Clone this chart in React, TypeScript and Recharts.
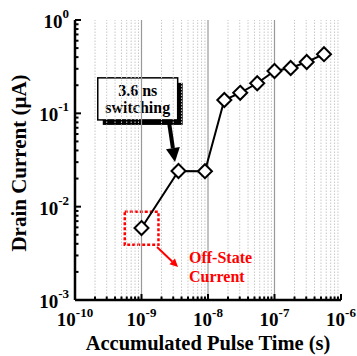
import React from 'react';
import { LineChart, Line, XAxis, YAxis, ReferenceLine, ReferenceArea, ReferenceDot } from 'recharts';

const pulseTime = [1e-9, 3.6e-9, 9.0e-9, 1.76e-8, 3.05e-8, 5.5e-8, 1.0e-7, 1.75e-7, 3.05e-7, 5.55e-7];
const drainCurrent = [0.0059, 0.0241, 0.024, 0.139, 0.166, 0.21, 0.284, 0.306, 0.355, 0.43];

const xMajor = [1e-10, 1e-9, 1e-8, 1e-7, 1e-6];
const yMajor = [1e-3, 1e-2, 1e-1, 1];
const mantissas = [2, 3, 4, 5, 6, 7, 8, 9];

const xMinor = xMajor.slice(0, -1).flatMap((d) => mantissas.map((m) => m * d));
const yMinor = yMajor.slice(0, -1).flatMap((d) => mantissas.map((m) => m * d));
const xTicks = [...xMajor, ...xMinor].sort((a, b) => a - b);
const yTicks = [...yMajor, ...yMinor].sort((a, b) => a - b);

const data = pulseTime.map((x, i) => ({ x, y: drainCurrent[i] }));

const FONT = '"Liberation Serif", "Times New Roman", serif';

const isMajor = (v: number) => Math.abs(Math.log10(v) - Math.round(Math.log10(v))) < 1e-6;
const expOf = (v: number) => String(Math.round(Math.log10(v)));

const BottomTick = (props: any) => {
  const { x, y, payload } = props;
  const v = payload.value;
  const major = isMajor(v);
  return (
    <g>
      <line x1={x} y1={y} x2={x} y2={y - (major ? 6 : 3.5)} stroke="#000" strokeWidth={2} />
      {major && (
        <text x={x} y={y + 26} textAnchor="middle" fontFamily={FONT} fontWeight="bold" fontSize={19} fill="#000">
          <tspan>10</tspan>
          <tspan dy={-9} fontSize={13}>{expOf(v)}</tspan>
        </text>
      )}
    </g>
  );
};

const TopTick = (props: any) => {
  const { x, y, payload } = props;
  const major = isMajor(payload.value);
  return <line x1={x} y1={y} x2={x} y2={y + (major ? 6 : 3.5)} stroke="#000" strokeWidth={2} />;
};

const LeftTick = (props: any) => {
  const { x, y, payload } = props;
  const v = payload.value;
  const major = isMajor(v);
  return (
    <g>
      <line x1={x} y1={y} x2={x + (major ? 6 : 3.5)} y2={y} stroke="#000" strokeWidth={2} />
      {major && (
        <text x={x - 6} y={y + 8} textAnchor="end" fontFamily={FONT} fontWeight="bold" fontSize={19} fill="#000">
          <tspan>10</tspan>
          <tspan dy={-10} fontSize={13}>{expOf(v)}</tspan>
        </text>
      )}
    </g>
  );
};

const RightTick = (props: any) => {
  const { x, y, payload } = props;
  const major = isMajor(payload.value);
  return <line x1={x} y1={y} x2={x - (major ? 6 : 3.5)} y2={y} stroke="#000" strokeWidth={2} />;
};

const Diamond = (props: any) => {
  const { cx, cy, index } = props;
  if (cx == null || cy == null) return null;
  const r = 7;
  return (
    <polygon
      key={`d-${index}`}
      points={`${cx},${cy - r} ${cx + r},${cy} ${cx},${cy + r} ${cx - r},${cy}`}
      fill="#fff"
      stroke="#000"
      strokeWidth={2}
    />
  );
};

const makeArrow = (color: string, shaft: number, headLen: number, headHalf: number) => (p: any) => {
  const { x1, y1, x2, y2 } = p;
  const dx = x2 - x1;
  const dy = y2 - y1;
  const len = Math.sqrt(dx * dx + dy * dy) || 1;
  const ux = dx / len;
  const uy = dy / len;
  const bx = x2 - ux * headLen;
  const by = y2 - uy * headLen;
  const nx = -uy;
  const ny = ux;
  return (
    <g>
      <line x1={x1} y1={y1} x2={bx} y2={by} stroke={color} strokeWidth={shaft} />
      <polygon
        points={`${x2},${y2} ${bx + nx * headHalf},${by + ny * headHalf} ${bx - nx * headHalf},${by - ny * headHalf}`}
        fill={color}
      />
    </g>
  );
};

const CalloutBox = (p: any) => {
  const { x, y, width, height } = p;
  return (
    <g>
      <rect x={x + 5} y={y + 5} width={width} height={height} fill="#000" />
      <rect x={x} y={y} width={width} height={height} fill="#fff" stroke="#000" strokeWidth={1.5} />
      <text x={x + width / 2} y={y + 18} textAnchor="middle" fontFamily={FONT} fontWeight="bold" fontSize={16} fill="#000">
        3.6 ns
      </text>
      <text x={x + width / 2} y={y + 35} textAnchor="middle" fontFamily={FONT} fontWeight="bold" fontSize={16} fill="#000">
        switching
      </text>
    </g>
  );
};

const OffStateText = (p: any) => {
  const { cx, cy } = p;
  return (
    <g>
      <text x={cx} y={cy} fontFamily={FONT} fontWeight="bold" fontSize={16} fill="#ff0000">Off-State</text>
      <text x={cx} y={cy + 19} fontFamily={FONT} fontWeight="bold" fontSize={16} fill="#ff0000">Current</text>
    </g>
  );
};

export default function App() {
  return (
    <div style={{ position: 'absolute', left: 0, top: 0, width: 357, height: 356, background: '#fff' }}>
      <LineChart width={357} height={356} data={data} margin={{ top: 20, right: 16, bottom: 0, left: 0 }}>
        <XAxis
          dataKey="x"
          type="number"
          scale="log"
          domain={[1e-10, 1e-6]}
          allowDataOverflow
          ticks={xTicks}
          interval={0}
          tickSize={0}
          tickMargin={0}
          tickLine={false}
          tick={<BottomTick />}
          axisLine={{ stroke: '#000', strokeWidth: 2.5 }}
          height={56}
          label={{
            content: (lp: any) => {
              const vb = lp.viewBox || { x: 75, y: 300, width: 266, height: 56 };
              return (
                <text x={vb.x + vb.width / 2} y={vb.y + 50} textAnchor="middle" fontFamily={FONT} fontWeight="bold" fontSize={20.5} fill="#000">
                  Accumulated Pulse Time (s)
                </text>
              );
            },
          }}
        />
        <XAxis
          xAxisId="top"
          orientation="top"
          type="number"
          scale="log"
          domain={[1e-10, 1e-6]}
          allowDataOverflow
          ticks={xTicks}
          interval={0}
          tickSize={0}
          tickMargin={0}
          tickLine={false}
          tick={<TopTick />}
          axisLine={{ stroke: '#000', strokeWidth: 2.5 }}
          height={0}
        />
        <YAxis
          type="number"
          scale="log"
          domain={[1e-3, 1]}
          allowDataOverflow
          ticks={yTicks}
          interval={0}
          tickSize={0}
          tickMargin={0}
          tickLine={false}
          tick={<LeftTick />}
          axisLine={{ stroke: '#000', strokeWidth: 2.5 }}
          width={75}
          label={{
            content: (lp: any) => {
              const vb = lp.viewBox || { x: 0, y: 20, width: 75, height: 280 };
              const cx = vb.x + 26;
              const cy = 163;
              return (
                <text x={cx} y={cy} transform={`rotate(-90, ${cx}, ${cy})`} textAnchor="middle" fontFamily={FONT} fontWeight="bold" fontSize={21} fill="#000">
                  Drain Current (μA)
                </text>
              );
            },
          }}
        />
        <YAxis
          yAxisId="right"
          orientation="right"
          type="number"
          scale="log"
          domain={[1e-3, 1]}
          allowDataOverflow
          ticks={yTicks}
          interval={0}
          tickSize={0}
          tickMargin={0}
          tickLine={false}
          tick={<RightTick />}
          axisLine={{ stroke: '#000', strokeWidth: 2.5 }}
          width={0}
        />
        {xMinor.map((v) => (
          <ReferenceLine key={`mn-${v}`} x={v} stroke="#c8c8c8" strokeWidth={1} strokeDasharray="1.5 1.5" />
        ))}
        {xMajor.slice(1, -1).map((v) => (
          <ReferenceLine key={`mj-${v}`} x={v} stroke="#999" strokeWidth={1.2} />
        ))}
        <ReferenceArea
          x1={5.6e-10}
          x2={1.8e-9}
          y1={0.0039}
          y2={0.0088}
          fill="none"
          fillOpacity={0}
          stroke="#ff0000"
          strokeWidth={2.5}
          strokeDasharray="3 2"
        />
        <ReferenceLine
          segment={[{ x: 1.71e-9, y: 0.0037 }, { x: 3.54e-9, y: 0.00226 }]}
          shape={makeArrow('#ff0000', 2, 8, 4)}
        />
        <ReferenceDot x={5.18e-9} y={0.00249} r={0} shape={OffStateText} />
        <ReferenceLine
          segment={[{ x: 2.59e-9, y: 0.0807 }, { x: 3.19e-9, y: 0.0301 }]}
          shape={makeArrow('#000', 4, 14, 7)}
        />
        <ReferenceArea x1={2.2e-10} x2={3.5e-9} y1={0.085} y2={0.24} shape={CalloutBox} />
        <Line
          dataKey="y"
          stroke="#000"
          strokeWidth={2}
          dot={Diamond}
          activeDot={false}
          isAnimationActive={false}
        />
      </LineChart>
    </div>
  );
}
